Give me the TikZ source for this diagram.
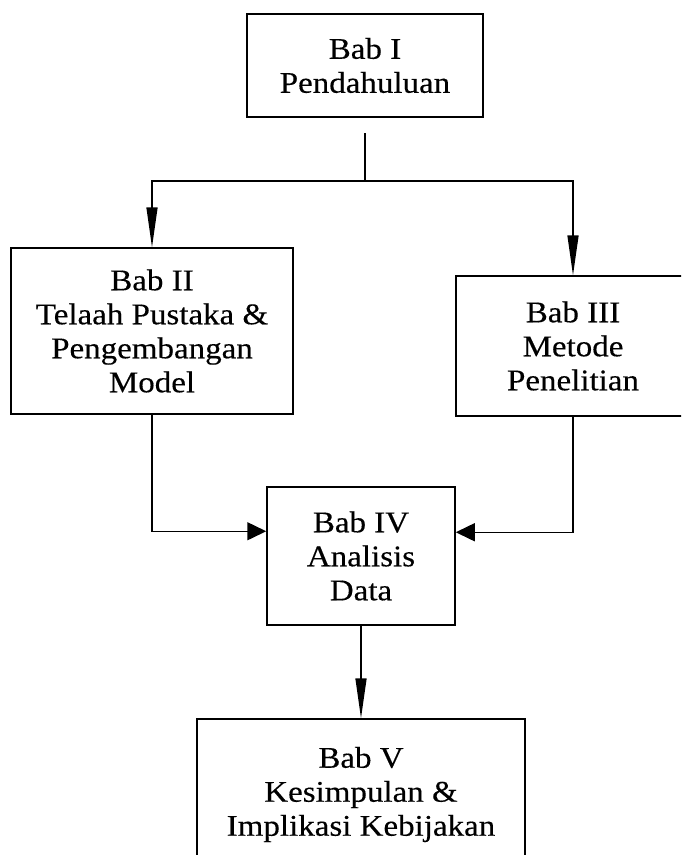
\documentclass[tikz,border=0pt]{standalone}
\usepackage{fontspec}
\setmainfont{Liberation Serif}[FakeStretch=1.1, FakeBold=0.3]
\usetikzlibrary{arrows.meta}

\tikzset{
  chapter/.style={draw, line width=1.5pt, rectangle, inner sep=0pt, align=center,
    font=\fontsize{30}{34}\selectfont},
  link/.style={line width=1.5pt},
  downarrow/.style={link, -{Triangle[length=40pt,width=11pt]}},
  sidearrow/.style={link, -{Triangle[length=19pt,width=18pt]}},
}

\begin{document}
\begin{tikzpicture}[x=1pt, y=-1pt]
  \useasboundingbox (0,0) rectangle (681,855);
  \clip (0,0) rectangle (681,855);

  % chapter boxes
  \node[chapter, minimum width=236pt, minimum height=103pt] (b1) at (365,65.5)
    {Bab I\\Pendahuluan};
  \node[chapter, minimum width=282pt, minimum height=166pt] (b2) at (152,331)
    {Bab II\\Telaah Pustaka \&\\Pengembangan\\Model};
  \node[chapter, minimum width=234pt, minimum height=140pt] (b3) at (573,346)
    {Bab III\\Metode\\Penelitian};
  \node[chapter, minimum width=188pt, minimum height=138pt] (b4) at (361,556)
    {Bab IV\\Analisis\\Data};
  \node[chapter, minimum width=328pt, minimum height=151pt] (b5) at (361,794.5)
    {Bab V\\Kesimpulan \&\\Implikasi Kebijakan};

  % fork below chapter I
  \coordinate (stem) at (365,133);
  \coordinate (fork) at (365,181);
  \draw[link] (stem) -- (fork);
  \draw[downarrow] (fork) -| (b2.north);
  \draw[downarrow] (fork) -| (b3.north);

  % chapters II and III feed into chapter IV
  \draw[sidearrow] (b2.south) |- ([yshift=-45pt]b4.north west);
  \draw[sidearrow] (b3.south) |- ([yshift=-46pt]b4.north east);

  % chapter IV leads to chapter V
  \draw[downarrow] (b4.south) -- (b5.north);
\end{tikzpicture}
\end{document}
